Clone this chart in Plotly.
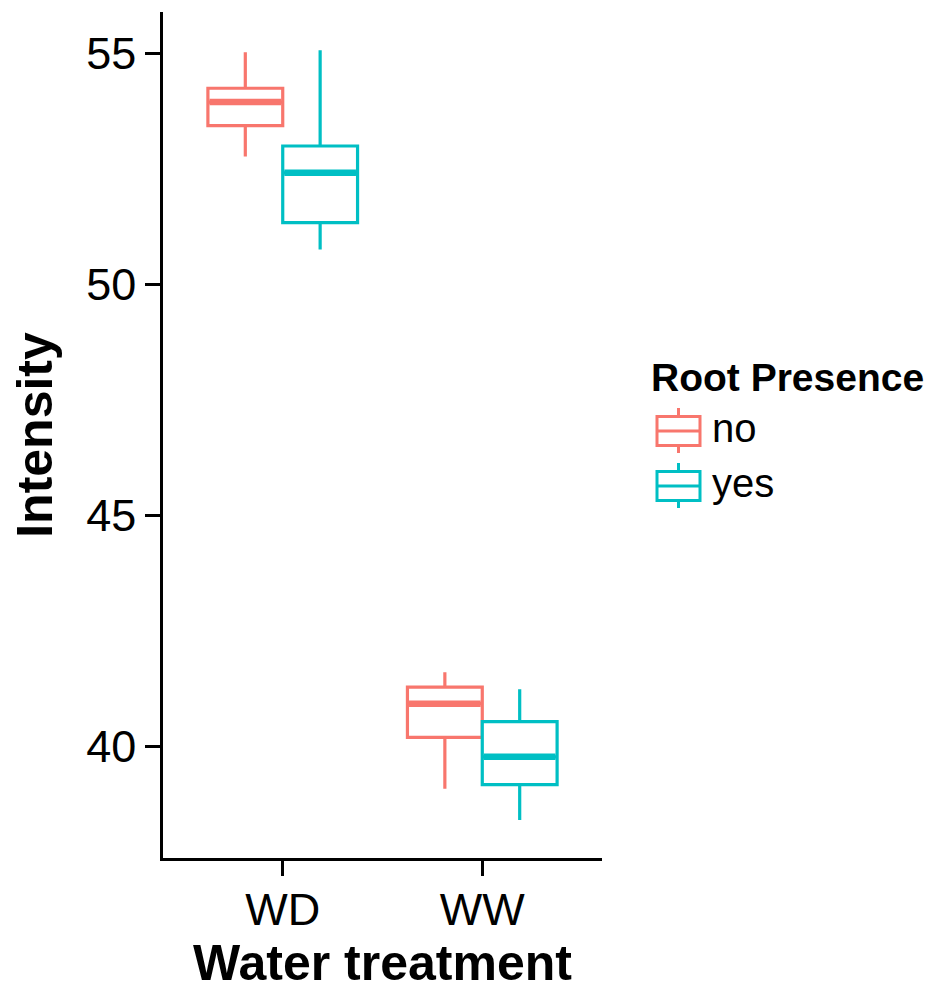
import plotly.graph_objects as go

# Water treatment groups and box statistics per root-presence level
treatments = ["WD", "WW"]
root_levels = ["no", "yes"]

no_lower = [52.76, 39.08]
no_q1 = [53.43, 40.19]
no_median = [53.94, 40.92]
no_q3 = [54.24, 41.28]
no_upper = [55.02, 41.60]

yes_lower = [50.75, 38.40]
yes_q1 = [51.33, 39.17]
yes_median = [52.41, 39.77]
yes_q3 = [52.99, 40.53]
yes_upper = [55.06, 41.23]

colors = {"no": "#F8766D", "yes": "#00BFC4"}

stats = {
    "no": (no_lower, no_q1, no_median, no_q3, no_upper),
    "yes": (yes_lower, yes_q1, yes_median, yes_q3, yes_upper),
}

# Figure geometry (pixels)
W, H = 948, 992
ML, MR, MT, MB = 163, 346, 12, 134
PW, PH = W - ML - MR, H - MT - MB

dodge_width = 0.75
box_w = dodge_width / len(root_levels)
line_w = 3.2
median_w = 6.5

fig = go.Figure()

for j, lvl in enumerate(root_levels):
    lo, q1, med, q3, hi = stats[lvl]
    offset = -dodge_width / 2 + box_w * (j + 0.5)
    xs = [i + offset for i in range(len(treatments))]
    fig.add_trace(go.Box(
        x=xs, lowerfence=lo, q1=q1, median=med, q3=q3, upperfence=hi,
        width=box_w, whiskerwidth=0, boxpoints=False,
        line=dict(color=colors[lvl], width=line_w),
        fillcolor="white", name=lvl, showlegend=False,
        hoverinfo="skip",
    ))
    # thicker median bar on top of each box
    for x, m in zip(xs, med):
        fig.add_trace(go.Scatter(
            x=[x - box_w / 2 + 0.008, x + box_w / 2 - 0.008], y=[m, m],
            mode="lines", line=dict(color=colors[lvl], width=median_w),
            showlegend=False, hoverinfo="skip",
        ))


def px_x(p):
    return (p - ML) / PW


def px_y(p):
    return (H - MB - p) / PH


# Manual legend: title, box glyphs and labels
legend_font = "Arial"
annotations = [dict(
    text="<b>Root Presence</b>", x=px_x(649), y=px_y(377),
    xref="paper", yref="paper", xanchor="left", yanchor="middle",
    showarrow=False, font=dict(family=legend_font, size=39, color="black"),
)]
shapes = []
glyph_centers = [431, 486]
for lvl, cy in zip(root_levels, glyph_centers):
    c = colors[lvl]
    x0, x1, xm = 657, 700, 678.5
    shapes.append(dict(type="rect", xref="paper", yref="paper",
                       x0=px_x(x0), x1=px_x(x1), y0=px_y(cy - 14.5), y1=px_y(cy + 14.5),
                       line=dict(color=c, width=3), fillcolor="white"))
    shapes.append(dict(type="line", xref="paper", yref="paper",
                       x0=px_x(x0), x1=px_x(x1), y0=px_y(cy), y1=px_y(cy),
                       line=dict(color=c, width=3)))
    shapes.append(dict(type="line", xref="paper", yref="paper",
                       x0=px_x(xm), x1=px_x(xm), y0=px_y(cy - 23), y1=px_y(cy - 14.5),
                       line=dict(color=c, width=3)))
    shapes.append(dict(type="line", xref="paper", yref="paper",
                       x0=px_x(xm), x1=px_x(xm), y0=px_y(cy + 14.5), y1=px_y(cy + 22),
                       line=dict(color=c, width=3)))
    annotations.append(dict(
        text=lvl, x=px_x(710), y=px_y(cy - 3),
        xref="paper", yref="paper", xanchor="left", yanchor="middle",
        showarrow=False, font=dict(family=legend_font, size=40, color="black"),
    ))

fig.update_layout(
    width=W, height=H,
    margin=dict(l=ML, r=MR, t=MT, b=MB, pad=0),
    plot_bgcolor="white", paper_bgcolor="white",
    showlegend=False,
    shapes=shapes, annotations=annotations,
    font=dict(family="Arial", color="black"),
)

fig.update_xaxes(
    range=[-0.6, len(treatments) - 1 + 0.6],
    tickmode="array", tickvals=list(range(len(treatments))), ticktext=treatments,
    showgrid=False, zeroline=False,
    showline=True, linecolor="black", linewidth=2.5,
    ticks="outside", ticklen=15, tickwidth=2.5, tickcolor="black",
    tickfont=dict(size=45, color="black"), ticklabelstandoff=-5,
    title=dict(text="Water treatment", font=dict(size=50, weight="bold", color="black"),
               standoff=8),
)
fig.update_yaxes(
    range=[37.58, 55.89],
    tickmode="array", tickvals=[40, 45, 50, 55],
    showgrid=False, zeroline=False,
    showline=True, linecolor="black", linewidth=2.5,
    ticks="outside", ticklen=15, tickwidth=2.5, tickcolor="black",
    tickfont=dict(size=45, color="black"),
    title=dict(text="Intensity", font=dict(size=50, weight="bold", color="black"),
               standoff=18),
)

fig.write_html("out.html")
